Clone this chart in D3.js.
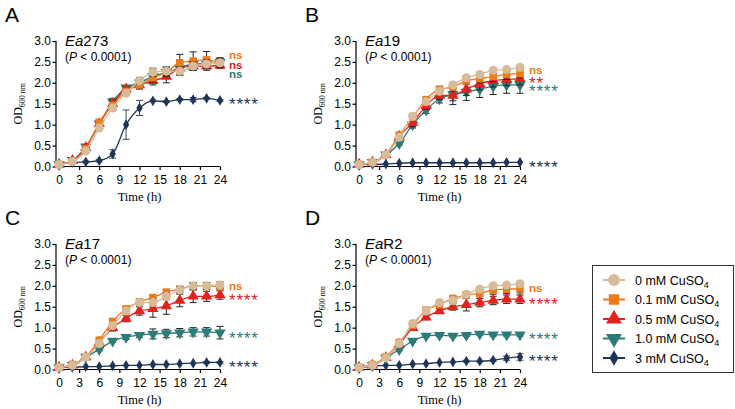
<!DOCTYPE html>
<html>
<head>
<meta charset="utf-8">
<script src="https://cdn.jsdelivr.net/npm/d3@7"></script>
<style>
  body { margin: 0; background: #fff; }
  text { font-family: "Liberation Sans", Arial, sans-serif; }
  .serif { font-family: "Liberation Serif", "Times New Roman", serif; }
</style>
</head>
<body>
<svg id="chart" width="735" height="409"></svg>
<script>
// sampling times (h) and axis ticks
const times = [0, 2, 4, 6, 8, 10, 12, 14, 16, 18, 20, 22, 24];
const xTicks = [0, 3, 6, 9, 12, 15, 18, 21, 24];
const yTicks = [0, 0.5, 1.0, 1.5, 2.0, 2.5, 3.0];

// series: CuSO4 concentrations
const concLabels = ["0", "0.1", "0.5", "1.0", "3"];
const colors = ["#D8BB98", "#EE7A1C", "#E3211E", "#2B7B78", "#1D3556"];
const symbols = ["circle", "square", "triangle", "triangleDown", "diamond"];

const panelLetters = ["A", "B", "C", "D"];
const strainNames = ["273", "19", "17", "R2"];

// mean OD600 per series (0, 0.1, 0.5, 1.0, 3 mM)
const ea273Mean = [
  [0.05, 0.12, 0.37, 0.92, 1.40, 1.75, 2.05, 2.25, 2.28, 2.28, 2.40, 2.45, 2.48],
  [0.05, 0.13, 0.42, 1.06, 1.47, 1.80, 1.95, 2.12, 2.25, 2.48, 2.52, 2.55, 2.48],
  [0.05, 0.14, 0.45, 1.02, 1.50, 1.85, 1.95, 2.05, 2.15, 2.35, 2.40, 2.40, 2.42],
  [0.05, 0.15, 0.47, 1.02, 1.55, 1.88, 2.00, 2.15, 2.25, 2.35, 2.45, 2.45, 2.50],
  [0.05, 0.10, 0.11, 0.14, 0.30, 1.00, 1.40, 1.57, 1.55, 1.60, 1.60, 1.63, 1.58]
];
const ea273Sd = [
  [0, 0.02, 0.03, 0.04, 0.05, 0.05, 0.08, 0.10, 0.10, 0.10, 0.10, 0.10, 0.10],
  [0, 0.02, 0.03, 0.05, 0.08, 0.08, 0.10, 0.10, 0.10, 0.20, 0.22, 0.20, 0.10],
  [0, 0.02, 0.03, 0.05, 0.08, 0.05, 0.08, 0.10, 0.15, 0.15, 0.10, 0.10, 0.08],
  [0, 0.02, 0.03, 0.05, 0.08, 0.05, 0.08, 0.15, 0.12, 0.10, 0.10, 0.10, 0.10],
  [0, 0.02, 0.02, 0.03, 0.10, 0.35, 0.18, 0.02, 0.02, 0.02, 0.05, 0.02, 0.02]
];
const ea19Mean = [
  [0.05, 0.10, 0.28, 0.70, 1.20, 1.55, 1.80, 1.95, 2.12, 2.20, 2.30, 2.32, 2.37],
  [0.05, 0.10, 0.28, 0.75, 1.18, 1.60, 1.85, 1.90, 2.05, 2.10, 2.15, 2.20, 2.22],
  [0.05, 0.10, 0.28, 0.72, 1.05, 1.45, 1.70, 1.70, 1.85, 1.98, 2.05, 2.08, 2.10],
  [0.05, 0.10, 0.28, 0.55, 1.00, 1.35, 1.62, 1.72, 1.78, 1.85, 1.92, 1.95, 1.95],
  [0.05, 0.05, 0.06, 0.08, 0.09, 0.09, 0.09, 0.09, 0.09, 0.09, 0.09, 0.10, 0.10]
];
const ea19Sd = [
  [0, 0.02, 0.02, 0.04, 0.05, 0.05, 0.05, 0.05, 0.05, 0.05, 0.05, 0.05, 0.05],
  [0, 0.02, 0.02, 0.05, 0.08, 0.05, 0.05, 0.10, 0.08, 0.10, 0.12, 0.12, 0.10],
  [0, 0.02, 0.02, 0.05, 0.10, 0.08, 0.10, 0.22, 0.15, 0.15, 0.15, 0.15, 0.15],
  [0, 0.02, 0.02, 0.04, 0.08, 0.08, 0.10, 0.15, 0.20, 0.20, 0.20, 0.20, 0.20],
  [0, 0.01, 0.01, 0.01, 0.01, 0.01, 0.01, 0.01, 0.01, 0.01, 0.01, 0.01, 0.01]
];
const ea17Mean = [
  [0.05, 0.10, 0.30, 0.62, 1.05, 1.40, 1.60, 1.60, 1.75, 1.90, 2.00, 2.00, 2.02],
  [0.05, 0.12, 0.30, 0.70, 1.15, 1.45, 1.62, 1.72, 1.85, 1.92, 2.00, 2.00, 1.97],
  [0.05, 0.10, 0.30, 0.65, 1.00, 1.22, 1.40, 1.45, 1.52, 1.65, 1.75, 1.75, 1.78],
  [0.05, 0.10, 0.30, 0.48, 0.68, 0.77, 0.82, 0.85, 0.86, 0.88, 0.90, 0.90, 0.88],
  [0.05, 0.05, 0.07, 0.07, 0.09, 0.10, 0.10, 0.12, 0.12, 0.14, 0.15, 0.17, 0.17]
];
const ea17Sd = [
  [0, 0.02, 0.02, 0.04, 0.05, 0.05, 0.05, 0.08, 0.08, 0.08, 0.08, 0.08, 0.08],
  [0, 0.02, 0.02, 0.04, 0.06, 0.05, 0.05, 0.05, 0.05, 0.05, 0.08, 0.08, 0.08],
  [0, 0.02, 0.02, 0.04, 0.08, 0.08, 0.10, 0.20, 0.20, 0.15, 0.15, 0.12, 0.10],
  [0, 0.02, 0.02, 0.03, 0.03, 0.05, 0.05, 0.12, 0.10, 0.10, 0.10, 0.10, 0.15],
  [0, 0.01, 0.01, 0.01, 0.01, 0.01, 0.01, 0.01, 0.01, 0.01, 0.01, 0.02, 0.02]
];
const eaR2Mean = [
  [0.05, 0.10, 0.28, 0.62, 1.10, 1.40, 1.60, 1.65, 1.80, 1.92, 2.00, 2.02, 2.05],
  [0.05, 0.12, 0.30, 0.65, 1.05, 1.42, 1.55, 1.70, 1.78, 1.82, 1.90, 1.92, 1.93],
  [0.05, 0.10, 0.28, 0.60, 1.00, 1.25, 1.40, 1.50, 1.55, 1.60, 1.65, 1.68, 1.68],
  [0.05, 0.10, 0.28, 0.48, 0.68, 0.80, 0.82, 0.80, 0.82, 0.85, 0.83, 0.83, 0.83],
  [0.05, 0.08, 0.10, 0.10, 0.13, 0.14, 0.17, 0.18, 0.20, 0.20, 0.22, 0.27, 0.30]
];
const eaR2Sd = [
  [0, 0.02, 0.02, 0.04, 0.05, 0.05, 0.05, 0.05, 0.05, 0.05, 0.05, 0.05, 0.05],
  [0, 0.02, 0.02, 0.04, 0.05, 0.05, 0.05, 0.05, 0.08, 0.08, 0.10, 0.10, 0.10],
  [0, 0.02, 0.02, 0.04, 0.05, 0.06, 0.06, 0.08, 0.15, 0.10, 0.10, 0.10, 0.10],
  [0, 0.02, 0.02, 0.03, 0.03, 0.03, 0.03, 0.03, 0.03, 0.03, 0.03, 0.03, 0.03],
  [0, 0.01, 0.01, 0.01, 0.01, 0.01, 0.01, 0.01, 0.02, 0.02, 0.03, 0.05, 0.08]
];

// significance vs 0 mM, with label level (OD units) at right
const ea273Sig = [["ns", 2.67], ["ns", 2.43], ["ns", 2.20], ["****", 1.58]];
const ea19Sig = [["ns", 2.31], ["**", 2.10], ["****", 1.90], ["****", 0.08]];
const ea17Sig = [["ns", 2.00], ["****", 1.76], ["****", 0.86], ["****", 0.15]];
const eaR2Sig = [["ns", 1.95], ["****", 1.66], ["****", 0.83], ["****", 0.30]];

const panelMeans = [ea273Mean, ea19Mean, ea17Mean, eaR2Mean];
const panelSds = [ea273Sd, ea19Sd, ea17Sd, eaR2Sd];
const panelSigs = [ea273Sig, ea19Sig, ea17Sig, eaR2Sig];

const svg = d3.select("#chart");
const origins = [[0, 0], [300, 0], [0, 203], [300, 203]];

const symbolPath = (name, size) => {
  if (name === "circle") return d3.symbol(d3.symbolCircle, size)();
  if (name === "square") return d3.symbol(d3.symbolSquare, size)();
  if (name === "diamond") return d3.symbol(d3.symbolDiamond, size)();
  return d3.symbol(d3.symbolTriangle, size)();
};
const symbolSize = { circle: 64, square: 56, triangle: 56, triangleDown: 56, diamond: 34 };

function drawMarker(g, name, color, x, y) {
  g.append("path")
    .attr("d", symbolPath(name, symbolSize[name]))
    .attr("transform", `translate(${x},${y})` + (name === "triangleDown" ? " rotate(180)" : ""))
    .attr("fill", color);
}

panelMeans.forEach((means, p) => {
  const [ox, oy] = origins[p];
  const g = svg.append("g").attr("transform", `translate(${ox},${oy})`);
  const x = d3.scaleLinear().domain([0, 24]).range([59, 220]);
  const y = d3.scaleLinear().domain([0, 3]).range([166.5, 41]);
  const axisX = 56;

  // panel letter
  g.append("text").attr("x", 5).attr("y", 22)
    .attr("font-size", 21).text(panelLetters[p]);

  // axes
  const yAxis = g.append("g").attr("transform", `translate(${axisX},0)`)
    .call(d3.axisLeft(y).tickValues(yTicks).tickFormat(d3.format(".1f"))
      .tickSize(3.5).tickPadding(1.5).tickSizeOuter(0));
  yAxis.select(".domain").remove();
  yAxis.selectAll("text").attr("font-size", 12).attr("font-family", "Liberation Sans, Arial, sans-serif");

  const xAxis = g.append("g").attr("transform", `translate(0,${y(0)})`)
    .call(d3.axisBottom(x).tickValues(xTicks).tickSize(3.5).tickPadding(5).tickSizeOuter(0));
  xAxis.select(".domain").remove();
  xAxis.selectAll("text").attr("font-size", 12).attr("font-family", "Liberation Sans, Arial, sans-serif");

  g.append("path")
    .attr("d", `M${axisX},${y(3)}V${y(0)}H${x(24)}`)
    .attr("fill", "none").attr("stroke", "#000").attr("stroke-width", 1.2);
  g.selectAll(".tick line").attr("stroke-width", 1.2);

  // axis titles
  const ylab = g.append("text").attr("class", "serif")
    .attr("transform", `translate(22,${(y(0) + y(3)) / 2}) rotate(-90)`)
    .attr("text-anchor", "middle").attr("font-size", 12);
  ylab.append("tspan").text("OD");
  ylab.append("tspan").attr("font-size", 8).attr("dy", 3).text("600 nm");

  g.append("text").attr("class", "serif")
    .attr("x", (x(0) + x(24)) / 2).attr("y", 201)
    .attr("text-anchor", "middle").attr("font-size", 12.5).text("Time (h)");

  // strain title and p value
  const t = g.append("text").attr("x", 65).attr("y", 46).attr("font-size", 15);
  t.append("tspan").attr("font-style", "italic").text("Ea");
  t.append("tspan").text(strainNames[p]);
  const pv = g.append("text").attr("x", 65).attr("y", 61).attr("font-size", 12);
  pv.append("tspan").text("(");
  pv.append("tspan").attr("font-style", "italic").text("P");
  pv.append("tspan").text(" < 0.0001)");

  // series, drawn from highest concentration up so 0 mM is on top
  const line = d3.line().x((d, i) => x(times[i])).y(d => y(d)).curve(d3.curveMonotoneX);
  for (let s = means.length - 1; s >= 0; s--) {
    const pts = means[s].map((v, i) => ({ t: times[i], v: v, sd: panelSds[p][s][i] }));
    const sg = g.append("g");
    sg.append("path").attr("d", line(means[s]))
      .attr("fill", "none").attr("stroke", colors[s]).attr("stroke-width", 1.3);
    sg.selectAll(".eb").data(pts.filter(d => d.sd > 0.015)).enter()
      .append("path")
      .attr("d", d => {
        const cx = x(d.t);
        const hi = y(d.v + d.sd), lo = y(d.v - d.sd);
        return `M${cx},${hi}V${lo}M${cx - 3.5},${hi}H${cx + 3.5}M${cx - 3.5},${lo}H${cx + 3.5}`;
      })
      .attr("fill", "none").attr("stroke", s === 4 ? "#3a4a5e" : "#222").attr("stroke-width", 1);
    pts.forEach(d => drawMarker(sg, symbols[s], colors[s], x(d.t), y(d.v)));
  }

  // significance labels
  panelSigs[p].forEach(([label, level], k) => {
    const isStar = label !== "ns";
    g.append("text")
      .attr("x", x(24) + 9)
      .attr("y", y(level) + (isStar ? 10 : 4))
      .attr("font-size", isStar ? 17 : 11.5)
      .attr("font-weight", isStar ? "normal" : "bold")
      .attr("letter-spacing", isStar ? 0.8 : 0)
      .attr("fill", colors[k + 1])
      .text(label);
  });
});

// legend
const lg = svg.append("g");
lg.append("rect").attr("x", 592.5).attr("y", 265.5).attr("width", 141).attr("height", 107)
  .attr("fill", "none").attr("stroke", "#333").attr("stroke-width", 1);
concLabels.forEach((c, i) => {
  const cy = 280 + i * 19.5;
  lg.append("line").attr("x1", 603).attr("x2", 625).attr("y1", cy).attr("y2", cy)
    .attr("stroke", colors[i]).attr("stroke-width", 2);
  lg.append("path")
    .attr("d", symbolPath(symbols[i], i === 4 ? 70 : 110))
    .attr("transform", `translate(614,${cy})` + (symbols[i] === "triangleDown" ? " rotate(180)" : ""))
    .attr("fill", colors[i]);
  const tx = lg.append("text").attr("x", 635).attr("y", cy + 4.5).attr("font-size", 12.5);
  tx.append("tspan").text(`${c} mM CuSO`);
  tx.append("tspan").attr("font-size", 9).attr("dy", 3).text("4");
});
</script>
</body>
</html>
